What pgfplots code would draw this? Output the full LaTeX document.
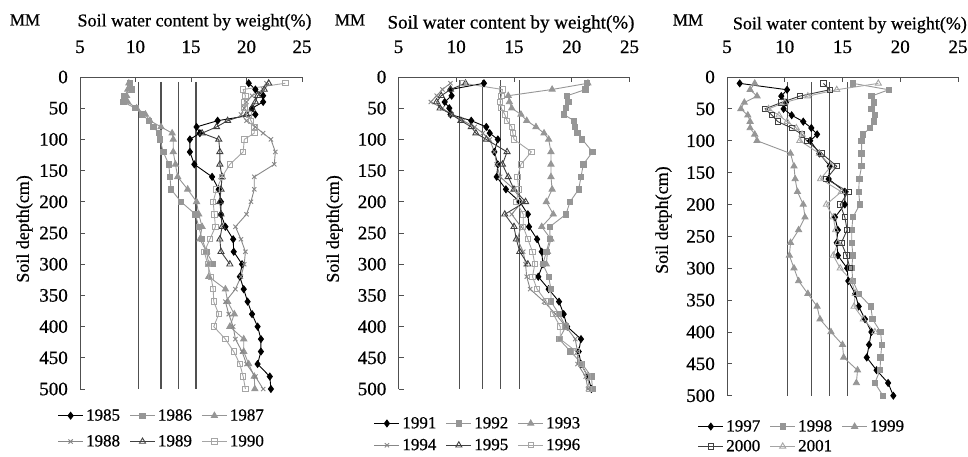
\documentclass[border=0pt]{standalone}
\usepackage{pgfplots}
\pgfplotsset{compat=1.18}
\usepackage{fontspec}
\setmainfont{Liberation Serif}
\newfontfamily\hv{Liberation Serif}[FakeBold=0.7]
\definecolor{gA}{RGB}{150,150,150}
\definecolor{gB}{RGB}{135,135,135}
\definecolor{gC}{RGB}{165,165,165}
\definecolor{axc}{RGB}{80,80,80}
\pgfplotsset{
 panel/.style={
  scale only axis, clip=false,
  xmin=5, xmax=25, ymin=0, ymax=500, y dir=reverse,
  xtick={5,10,15,20,25}, ytick={0,50,...,500},
  axis x line*=top, axis y line*=left,
  axis line style={axc, line width=0.9pt, -},
  tick align=inside, major tick length=5pt,
  tick style={axc, line width=0.9pt},
  /pgf/number format/assume math mode=true,
  tick label style={font=\hv\fontsize{19}{22}\selectfont, inner sep=0pt},
  xticklabel style={anchor=base, yshift=24pt},
  yticklabel style={anchor=east, xshift=-12pt},
  legend columns=3,
  legend style={draw=none, fill=none, font=\hv\fontsize{17}{20}\selectfont, anchor=north west,
    /tikz/every even column/.append style={column sep=7pt}, nodes={inner sep=2.5pt}},
  legend image code/.code={\draw[mark repeat=2,mark phase=2] plot coordinates {(0pt,0pt) (12.5pt,0pt) (25pt,0pt)};},
  every axis plot/.append style={line width=0.9pt},
 },
 vline/.style={axc, line width=1.2pt, forget plot, no markers},
 sA/.style={black, mark=diamond*, mark size=3.4pt, mark options={fill=black}},
 sB/.style={gA, mark=square*, mark size=2.7pt, mark options={fill=gA}},
 sC/.style={gA, mark=triangle*, mark size=3.5pt, mark options={fill=gA}},
 sD/.style={gB, mark=x, mark size=3pt},
 sE/.style={black!75, mark=triangle, mark size=3.5pt, mark options={fill=white}},
 sF/.style={gC, mark=square, mark size=2.7pt, mark options={fill=white}},
}
\begin{document}
\begin{tikzpicture}
\useasboundingbox (0,0) rectangle (968pt,457pt);
% ---------------- Panel 1 ----------------
\begin{axis}[panel, width=222pt, height=312pt, at={(80pt,68pt)}, anchor=south west,
  legend style={at={(axis description cs:-0.115,-0.05)}, row sep=8pt}]
\addplot[vline] coordinates {(10.25,8) (10.25,500)};
\addplot[vline] coordinates {(12.3,8) (12.3,500)};
\addplot[vline] coordinates {(13.85,8) (13.85,500)};
\addplot[vline] coordinates {(15.45,8) (15.45,500)};
\addplot[sA] coordinates {(20.2,10) (20.8,20) (21.5,30) (21.5,40) (20.5,50) (20.8,60) (17.4,70) (15.5,80) (15.8,90) (14.9,100) (14.9,120) (15.3,140) (16.9,160) (17.5,180) (17.7,200) (17.7,220) (18.1,240) (18.8,260) (18.85,280) (19.6,300) (19.4,320) (19.75,340) (20.1,360) (20.5,380) (21.0,400) (21.3,420) (21.3,440) (21.0,460) (22.1,480) (22.2,500)};
\addlegendentry{1985}
\addplot[sB] coordinates {(9.5,10) (9.7,20) (9.0,30) (8.9,40) (10.0,50) (10.6,60) (11.2,70) (11.6,80) (12.1,90) (12.2,100) (12.5,120) (13.0,140) (13.1,160) (13.2,180) (14.1,200) (15.4,220) (15.7,240) (16.0,260) (16.4,280) (17.0,300)};
\addlegendentry{1986}
\addplot[sC] coordinates {(9.4,10) (9.3,20) (9.2,30) (9.3,40) (10.1,50) (10.9,60) (11.3,70) (12.3,80) (13.3,90) (13.4,100) (13.4,120) (13.6,140) (13.8,160) (14.7,180) (15.5,200) (15.7,220) (16.0,240) (15.8,260) (16.4,280) (16.6,300) (16.6,320) (18.1,340) (18.3,360) (18.9,380) (18.5,400) (19.75,420) (19.75,440) (20.2,460) (20.7,480) (20.75,500)};
\addlegendentry{1987}
\addplot[sD] coordinates {(21.8,10) (21.5,20) (20.5,30) (20.0,40) (19.8,50) (19.5,60) (20.0,70) (20.8,80) (21.5,90) (22.2,100) (22.6,120) (22.5,140) (20.7,160) (20.7,180) (20.4,200) (20.0,220) (19.0,240) (19.5,260) (19.9,280) (19.8,300) (19.5,320) (19.0,340) (18.1,360) (18.4,380) (18.8,400) (19.0,420) (19.6,440) (20.0,460) (20.8,480) (21.5,500)};
\addlegendentry{1988}
\addplot[sE] coordinates {(22.0,10) (21.6,20) (21.0,30) (20.8,40) (20.5,50) (20.0,60) (18.3,70) (17.3,80) (16.0,90) (17.5,100) (17.6,120) (17.6,140) (17.8,160) (17.7,180) (17.6,200) (17.7,220) (17.8,240) (17.6,260) (17.7,280) (18.5,300)};
\addlegendentry{1989}
\addplot[sF] coordinates {(23.5,10) (19.7,20) (19.9,30) (19.8,40) (19.8,50) (20.2,60) (20.4,70) (20.7,80) (20.7,90) (19.8,100) (19.7,120) (18.5,140) (17.8,160) (17.3,180) (17.0,200) (17.1,220) (17.2,240) (16.7,260) (16.2,280) (16.5,300) (16.8,320) (17.0,340) (17.05,360) (17.5,380) (17.05,400) (18.1,420) (18.85,440) (19.4,460) (19.7,480) (19.9,500)};
\addlegendentry{1990}
\node[font=\hv\fontsize{18}{21}\selectfont] at (axis description cs:0.516,1.176) {Soil water content by weight(\%)};
\node[font=\hv\fontsize{17}{20}\selectfont] at (axis description cs:-0.248,1.183) {MM};
\node[rotate=90, font=\hv\fontsize{18}{21}\selectfont] at (axis description cs:-0.25,0.513) {Soil depth(cm)};
\end{axis}
% ---------------- Panel 2 ----------------
\begin{axis}[panel, width=231pt, height=312pt, at={(398.5pt,68pt)}, anchor=south west,
  legend style={at={(axis description cs:-0.12,-0.075)}, row sep=4pt}]
\addplot[vline] coordinates {(10.25,5) (10.25,500)};
\addplot[vline] coordinates {(12.3,5) (12.3,500)};
\addplot[vline] coordinates {(13.85,5) (13.85,500)};
\addplot[vline] coordinates {(15.45,5) (15.45,500)};
\addplot[sA] coordinates {(12.4,10) (9.5,20) (9.6,30) (9.0,40) (9.4,50) (9.5,60) (11.3,70) (12.6,80) (12.9,90) (13.6,100) (13.3,120) (13.6,140) (13.5,160) (14.3,180) (15.5,200) (16.2,220) (16.3,240) (17.0,260) (17.4,280) (17.5,300) (17.1,320) (18.0,340) (18.9,360) (19.3,380) (19.6,400) (20.8,420) (20.6,440) (20.8,460) (21.4,480) (21.7,500)};
\addlegendentry{1991}
\addplot[sB] coordinates {(21.3,10) (21.2,20) (19.6,30) (19.7,40) (19.5,50) (19.3,60) (20.2,70) (20.3,80) (20.5,90) (20.9,100) (21.8,120) (21.0,140) (20.8,160) (20.6,180) (19.85,200) (19.5,220) (18.1,240) (18.1,260) (17.8,280) (17.5,300) (18.0,320) (18.2,340) (18.2,360) (18.9,380) (19.5,400) (18.9,420) (19.9,440) (20.9,460) (21.7,480) (21.8,500)};
\addlegendentry{1992}
\addplot[sC] coordinates {(21.4,10) (18.3,20) (14.5,30) (14.6,40) (14.8,50) (15.6,60) (16.1,70) (16.9,80) (17.6,90) (18.0,100) (18.2,120) (18.2,140) (18.2,160) (18.3,180) (17.8,200) (18.4,220) (17.4,240) (18.2,260) (17.9,280) (17.8,300)};
\addlegendentry{1993}
\addplot[sD] coordinates {(9.5,10) (8.8,20) (8.3,30) (7.8,40) (8.8,50) (9.6,60) (10.6,70) (11.6,80) (12.3,90) (12.9,100) (13.3,120) (13.5,140) (13.8,160) (15.0,180) (15.7,200) (14.8,220) (15.6,240) (15.3,260) (15.8,280) (16.0,300) (16.1,320) (16.4,340) (17.6,360) (18.6,380) (19.5,400) (20.3,420) (20.5,440) (20.5,460) (21.2,480) (21.4,500)};
\addlegendentry{1994}
\addplot[sE] coordinates {(10.8,10) (9.5,20) (8.7,30) (8.3,40) (8.6,50) (9.6,60) (10.4,70) (11.3,80) (11.7,90) (12.6,100) (14.4,120) (14.0,140) (14.5,160) (15.0,180) (16.0,200) (14.2,220) (15.0,240) (15.2,260) (15.5,280) (16.2,300)};
\addlegendentry{1995}
\addplot[sF] coordinates {(10.6,10) (14.0,20) (13.9,30) (13.8,40) (13.9,50) (14.2,60) (14.4,70) (14.8,80) (14.9,90) (15.0,100) (16.5,120) (15.6,140) (15.3,160) (15.4,180) (15.2,200) (15.8,220) (15.8,240) (16.2,260) (16.6,280) (16.8,300) (16.6,320) (17.0,340) (17.8,360) (18.4,380) (19.0,400) (19.0,420) (20.4,440) (20.8,460) (21.4,480) (21.5,500)};
\addlegendentry{1996}
\node[font=\hv\fontsize{19}{22}\selectfont] at (axis description cs:0.487,1.170) {Soil water content by weight(\%)};
\node[font=\hv\fontsize{17}{20}\selectfont] at (axis description cs:-0.21,1.183) {MM};
\node[rotate=90, font=\hv\fontsize{18}{21}\selectfont] at (axis description cs:-0.277,0.513) {Soil depth(cm)};
\end{axis}
% ---------------- Panel 3 ----------------
\begin{axis}[panel, width=231pt, height=318.7pt, at={(727pt,61.3pt)}, anchor=south west,
  legend style={at={(axis description cs:-0.14,-0.062)}, row sep=2pt}]
\addplot[vline] coordinates {(10.25,8) (10.25,500)};
\addplot[vline] coordinates {(12.3,8) (12.3,500)};
\addplot[vline] coordinates {(13.85,8) (13.85,500)};
\addplot[vline] coordinates {(15.45,8) (15.45,500)};
\addplot[sA] coordinates {(6.1,10) (10.2,20) (9.7,30) (10.1,40) (9.9,50) (10.6,60) (11.6,70) (12.3,80) (12.8,90) (12.2,100) (13.0,120) (13.9,140) (13.8,160) (15.2,180) (15.2,200) (14.35,220) (14.6,240) (14.5,260) (14.6,280) (15.4,300) (15.5,320) (16.1,340) (16.4,360) (16.95,380) (17.5,400) (17.3,420) (17.1,440) (17.95,460) (18.95,480) (19.4,500)};
\addlegendentry{1997}
\addplot[sB] coordinates {(15.9,10) (19.0,20) (17.5,30) (17.7,40) (17.5,50) (17.8,60) (17.7,70) (17.4,80) (16.75,90) (16.65,100) (16.65,120) (16.65,140) (16.45,160) (16.4,180) (16.5,200) (15.9,220) (15.8,240) (15.8,260) (15.9,280) (15.8,300) (15.9,320) (16.4,340) (17.45,360) (17.6,380) (18.3,400) (18.4,420) (18.3,440) (18.25,460) (17.8,480) (18.5,500)};
\addlegendentry{1998}
\addplot[sC] coordinates {(7.4,10) (7.0,20) (7.6,30) (6.5,40) (6.2,50) (6.8,60) (7.0,70) (7.0,80) (7.4,90) (7.6,100) (10.5,120) (10.8,140) (10.9,160) (11.1,180) (11.6,200) (11.75,220) (11.2,240) (10.5,260) (10.4,280) (10.8,300) (11.2,320) (12.0,340) (12.8,360) (13.05,380) (14.0,400) (15.0,420) (15.1,440) (16.3,460) (16.2,480)};
\addlegendentry{1999}
\addplot[sE, mark=square, mark size=2.7pt] coordinates {(13.35,10) (13.9,20) (11.3,30) (9.7,40) (8.3,50) (8.9,60) (9.4,70) (10.6,80) (11.5,90) (11.9,100) (13.2,120) (14.5,140) (13.6,160) (15.5,180) (14.8,200) (15.2,220) (15.4,240) (14.9,260) (15.35,280) (15.65,300)};
\addlegendentry{2000}
\addplot[sF, mark=triangle, mark size=3.5pt] coordinates {(18.1,10) (14.5,20) (12.0,30) (10.0,40) (8.6,50) (9.5,60) (10.2,70) (11.0,80) (11.5,90) (11.3,100) (13.0,120) (14.0,140) (13.1,160) (14.9,180) (13.6,200) (14.2,220) (14.4,240) (14.6,260) (14.2,280) (14.8,300) (15.8,320) (16.1,340) (16.0,360) (16.8,380) (17.8,400)};
\addlegendentry{2001}
\node[font=\hv\fontsize{18}{21}\selectfont] at (axis description cs:0.532,1.163) {Soil water content by weight(\%)};
\node[font=\hv\fontsize{17}{20}\selectfont] at (axis description cs:-0.169,1.179) {MM};
\node[rotate=90, font=\hv\fontsize{18}{21}\selectfont] at (axis description cs:-0.275,0.551) {Soil detph(cm)};
\end{axis}
\end{tikzpicture}
\end{document}
